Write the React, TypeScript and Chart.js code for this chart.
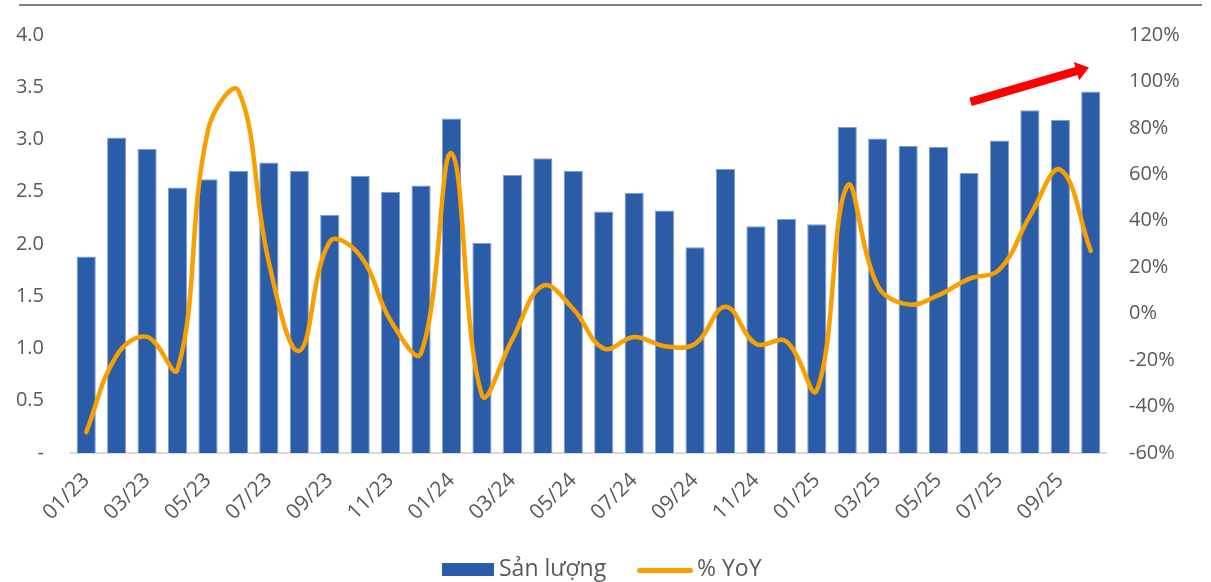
import React, { useEffect, useRef } from 'react';
import { Chart, registerables } from 'chart.js';

Chart.register(...registerables);

const months = [
  '01/23', '02/23', '03/23', '04/23', '05/23', '06/23', '07/23', '08/23', '09/23', '10/23', '11/23', '12/23',
  '01/24', '02/24', '03/24', '04/24', '05/24', '06/24', '07/24', '08/24', '09/24', '10/24', '11/24', '12/24',
  '01/25', '02/25', '03/25', '04/25', '05/25', '06/25', '07/25', '08/25', '09/25', '10/25',
];

const volume = [
  1.88, 3.02, 2.91, 2.54, 2.62, 2.7, 2.78, 2.7, 2.28, 2.65, 2.5, 2.56,
  3.2, 2.01, 2.66, 2.82, 2.7, 2.31, 2.49, 2.32, 1.97, 2.72, 2.17, 2.24,
  2.19, 3.12, 3.01, 2.94, 2.93, 2.68, 2.99, 3.28, 3.19, 3.46,
];

const yoy = [
  -51, -18, -10, -24, 79, 96, 22, -16, 31, 25, -3, -17,
  69, -35, -11, 12, 2, -15, -10, -14, -13, 3, -13, -12,
  -33, 55, 12, 4, 8, 15, 19, 42, 62, 27,
];

const leftAxis = { min: 0, max: 4, step: 0.5 };
const rightAxis = { min: -60, max: 120, step: 20 };

// red trend arrow annotation, in data units (category index, left-axis value)
const arrowStart = { x: 29.05, y: 3.36 };
const arrowEnd = { x: 32.94, y: 3.69 };

const BAR_COLOR = '#2B5CA8';
const LINE_COLOR = '#F7A000';
const TEXT_COLOR = '#595959';
const FONT = "'Open Sans', 'Liberation Sans', sans-serif";

const arrowPlugin = {
  id: 'trendArrow',
  afterDatasetsDraw(chart: any) {
    const { ctx, scales } = chart;
    const x0 = scales.x.getPixelForValue(arrowStart.x);
    const y0 = scales.y.getPixelForValue(arrowStart.y);
    const x1 = scales.x.getPixelForValue(arrowEnd.x);
    const y1 = scales.y.getPixelForValue(arrowEnd.y);
    const ang = Math.atan2(y1 - y0, x1 - x0);
    const len = Math.hypot(x1 - x0, y1 - y0);
    const half = 4.2;
    const headLen = 13;
    const headHalf = 9.5;
    ctx.save();
    ctx.translate(x0, y0);
    ctx.rotate(ang);
    ctx.fillStyle = '#FF0000';
    ctx.beginPath();
    ctx.moveTo(0, -half);
    ctx.lineTo(len - headLen, -half);
    ctx.lineTo(len - headLen, -headHalf);
    ctx.lineTo(len, 0);
    ctx.lineTo(len - headLen, headHalf);
    ctx.lineTo(len - headLen, half);
    ctx.lineTo(0, half);
    ctx.closePath();
    ctx.fill();
    ctx.restore();
  },
};

const fitVertical = (width: number) => (s: any) => {
  s.width = width;
  s.paddingTop = 0;
  s.paddingBottom = 0;
};

export default function App() {
  const canvasRef = useRef<HTMLCanvasElement | null>(null);

  useEffect(() => {
    if (!canvasRef.current) return;
    const chart = new Chart(canvasRef.current, {
      type: 'bar',
      data: {
        labels: months,
        datasets: [
          {
            type: 'line',
            label: '% YoY',
            data: yoy,
            yAxisID: 'y1',
            borderColor: LINE_COLOR,
            backgroundColor: LINE_COLOR,
            borderWidth: 4.5,
            pointRadius: 0,
            tension: 0.4,
            borderCapStyle: 'round',
            order: 0,
          } as any,
          {
            type: 'bar',
            label: 'Sản lượng',
            data: volume,
            yAxisID: 'y',
            backgroundColor: BAR_COLOR,
            borderColor: '#7F9ED3',
            borderWidth: 1,
            categoryPercentage: 1,
            barPercentage: 0.63,
            order: 1,
          } as any,
        ],
      },
      options: {
        animation: false,
        responsive: false,
        maintainAspectRatio: false,
        layout: { padding: { top: 35, left: 0, right: 0, bottom: 0 } },
        plugins: {
          legend: { display: false },
          tooltip: { enabled: false },
        },
        scales: {
          x: {
            grid: { display: false, drawTicks: false },
            border: { display: true, color: '#D9D9D9', width: 2 },
            ticks: {
              autoSkip: false,
              minRotation: 45,
              maxRotation: 45,
              padding: 15,
              color: TEXT_COLOR,
              font: { family: FONT, size: 21 },
              callback: (_v: any, i: number) => (i % 2 === 0 ? months[i] : ''),
            },
            afterFit: (s: any) => {
              s.height = 129;
            },
          },
          y: {
            position: 'left',
            min: leftAxis.min,
            max: leftAxis.max,
            grid: { display: false, drawTicks: false },
            border: { display: false },
            ticks: {
              stepSize: leftAxis.step,
              padding: 27,
              color: TEXT_COLOR,
              font: { family: FONT, size: 20 },
              callback: (v: any) => (Number(v) === 0 ? '-' : Number(v).toFixed(1)),
            },
            afterFit: fitVertical(71),
          },
          y1: {
            position: 'right',
            min: rightAxis.min,
            max: rightAxis.max,
            grid: { display: false, drawTicks: false },
            border: { display: false },
            ticks: {
              stepSize: rightAxis.step,
              padding: 23,
              color: TEXT_COLOR,
              font: { family: FONT, size: 20 },
              callback: (v: any) => `${v}%`,
            },
            afterFit: fitVertical(105),
          },
        },
      },
      plugins: [arrowPlugin],
    });
    return () => chart.destroy();
  }, []);

  return (
    <div style={{ position: 'fixed', left: 0, top: 0, width: 1211, height: 582, background: '#fff', fontFamily: FONT }}>
      <div style={{ position: 'absolute', left: 19, top: 4, width: 1183, height: 2, background: '#808080' }} />
      <canvas ref={canvasRef} width={1211} height={582} style={{ position: 'absolute', left: 0, top: 0 }} />
      <div style={{ position: 'absolute', left: 442, top: 563, width: 52, height: 13, background: BAR_COLOR }} />
      <div style={{ position: 'absolute', left: 499, top: 556, fontSize: 23, lineHeight: '23px', color: TEXT_COLOR, whiteSpace: 'nowrap' }}>
        Sản lượng
      </div>
      <div style={{ position: 'absolute', left: 637, top: 568, width: 56, height: 5, borderRadius: 3, background: LINE_COLOR }} />
      <div style={{ position: 'absolute', left: 697, top: 556, fontSize: 23, lineHeight: '23px', color: TEXT_COLOR, whiteSpace: 'nowrap' }}>
        % YoY
      </div>
    </div>
  );
}
